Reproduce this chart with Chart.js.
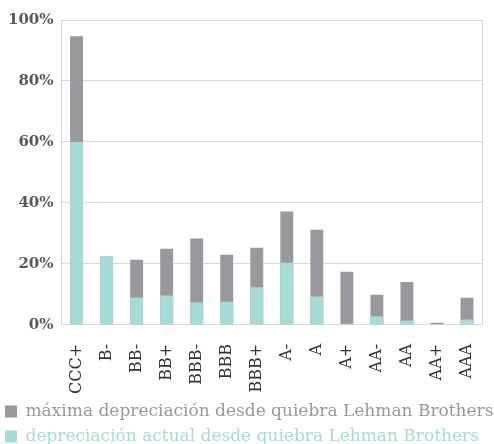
<!DOCTYPE html>
<html>
<head>
<meta charset="utf-8">
<script src="https://cdn.jsdelivr.net/npm/chart.js@4"></script>
<style>
  html, body { margin: 0; padding: 0; background: #fff; }
  #wrap { width: 494px; height: 444px; }
</style>
</head>
<body>
<div id="wrap"><canvas id="myChart"></canvas></div>
<script>
// calificaciones
var ratings = ['CCC+', 'B-', 'BB-', 'BB+', 'BBB-', 'BBB', 'BBB+', 'A-', 'A', 'A+', 'AA-', 'AA', 'AA+', 'AAA'];
// máxima depreciación (%)
var maxDep = [94.7, 22.4, 21.4, 25.0, 28.3, 23.0, 25.3, 37.2, 31.2, 17.4, 9.9, 14.1, 0.7, 8.9];
// depreciación actual (%)
var curDep = [60.0, 22.4, 9.0, 9.6, 7.3, 7.6, 12.3, 20.4, 9.3, 0.4, 2.8, 1.4, 0.0, 1.8];
var yTicks = [0, 20, 40, 60, 80, 100];

var seriesNames = ['máxima depreciación desde quiebra Lehman Brothers', 'depreciación actual desde quiebra Lehman Brothers'];
var colors = ['#98999d', '#a7dbd5'];
var gridColor = '#d9d9d9';
var serif = "'DejaVu Serif', serif";

// leyenda un poco más baja y más a la izquierda, como en el original
var legendTweak = {
    id: 'legendTweak',
    beforeLayout: function (chart) {
        var lg = chart.legend;
        if (!lg || lg._tweaked) return;
        var fit = lg.fit;
        lg.fit = function () {
            fit.call(this);
            this.height -= 11;
        };
        lg._tweaked = true;
    },
    afterLayout: function (chart) {
        if (chart.legend) chart.legend.left -= 3;
    }
};

var config = {
    type: 'bar',
    data: {
        labels: ratings,
        datasets: [{
            label: seriesNames[0],
            data: maxDep,
            backgroundColor: colors[0],
            order: 1
        }, {
            label: seriesNames[1],
            data: curDep,
            backgroundColor: colors[1],
            order: 0
        }]
    },
    options: {
        responsive: true,
        maintainAspectRatio: false,
        animation: false,
        datasets: {
            bar: { grouped: false, barPercentage: 0.86, categoryPercentage: 0.5 }
        },
        layout: { padding: { left: 0, right: 0, top: 20, bottom: 0 } },
        scales: {
            x: {
                grid: { display: false, drawTicks: false },
                border: { color: gridColor },
                ticks: {
                    minRotation: 90, maxRotation: 90, padding: 19,
                    color: '#333333',
                    font: { family: serif, size: 16 }
                },
                afterFit: function (scale) {
                    scale.height -= 18;
                    scale.paddingRight = 0;
                }
            },
            y: {
                min: 0, max: 100,
                afterBuildTicks: function (axis) {
                    axis.ticks = yTicks.map(function (v) { return { value: v }; });
                },
                grid: { color: gridColor, drawTicks: false },
                border: { color: gridColor },
                ticks: {
                    padding: 8,
                    color: '#595959',
                    font: { family: serif, size: 15, weight: 'bold' },
                    callback: function (v) { return v + '%'; }
                }
            },
            y2: {
                position: 'right',
                min: 0, max: 100,
                grid: { display: false, drawTicks: false },
                border: { color: gridColor },
                ticks: { display: false },
                afterFit: function (scale) { scale.width = 12; }
            }
        },
        plugins: {
            tooltip: { enabled: false },
            legend: {
                position: 'bottom',
                align: 'start',
                labels: {
                    boxWidth: 12, boxHeight: 12, padding: 8,
                    font: { family: serif, size: 17 },
                    generateLabels: function (chart) {
                        return chart.data.datasets.map(function (ds, i) {
                            return {
                                text: ds.label,
                                fillStyle: ds.backgroundColor,
                                strokeStyle: ds.backgroundColor,
                                lineWidth: 0,
                                fontColor: ds.backgroundColor,
                                datasetIndex: i
                            };
                        });
                    }
                }
            }
        }
    },
    plugins: [legendTweak]
};

var ctx = document.getElementById('myChart').getContext('2d');
var myChart = new Chart(ctx, config);
</script>
</body>
</html>
